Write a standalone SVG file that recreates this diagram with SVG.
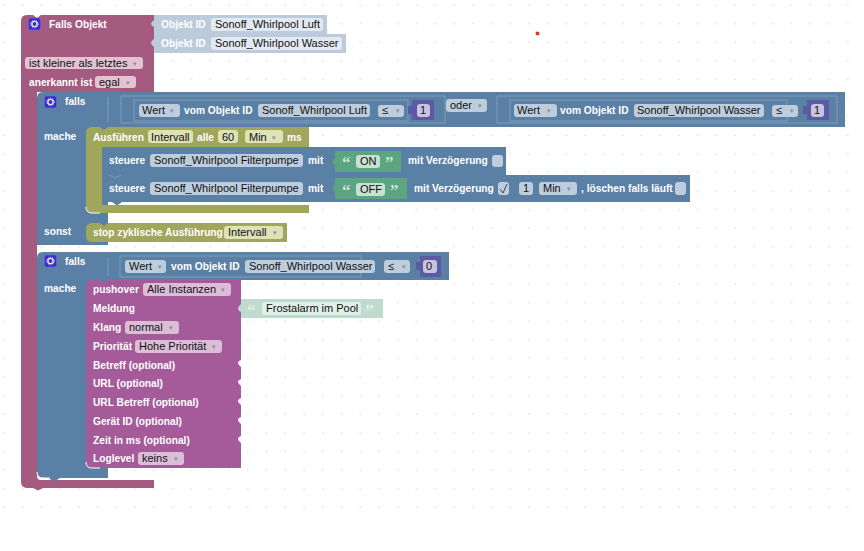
<svg xmlns="http://www.w3.org/2000/svg" width="864" height="551" viewBox="0 0 864 551">
<style>
text{font-family:"Liberation Sans",Arial,sans-serif;font-size:10.2px;font-weight:bold;fill:#fff}
.f{font-weight:normal;fill:#111;font-size:11px}
.ed{rx:3px;ry:3px}
.rosef{fill:#e3c3d2}.bluef{fill:#bdcddd}.olivef{fill:#dde2b8}.purpf{fill:#dcbdd8}.lightf{fill:#e3e9f0}.greenf{fill:#c6e0d2}.numf{fill:#c9c3e0}
.rose{fill:#a55b80}.blue{fill:#5b80a5}.olive{fill:#a0a65b}.purp{fill:#a55b99}.light{fill:#bccbdc}.green{fill:#5ba580}.pale{fill:#bddccd}.num{fill:#5b5ba5}
.in{fill:none;stroke:#7f9dbb;stroke-width:1}
.hl{fill:none;stroke:#fff;stroke-width:1}
.q{font-family:"Liberation Serif",serif;font-size:17px;font-weight:bold;fill:#cfe6da}
.ar{fill:#8f8f8f;font-size:7px;font-weight:normal}
</style>
<defs>
<pattern id="dots" width="18.75" height="18.6" patternUnits="userSpaceOnUse" x="-5" y="-4"><circle cx="9" cy="9" r="0.8" fill="#d4d4d4"/></pattern>
<g id="gear"><rect x="-6" y="-6" width="12" height="12" rx="2" fill="#3a2fc4" stroke="#6f66d8" stroke-width="0.6"/><circle r="2.6" fill="none" stroke="#e8e6fa" stroke-width="1.4"/><circle r="3.8" fill="none" stroke="#e8e6fa" stroke-width="0.8" stroke-dasharray="1.2 1.2"/></g>
</defs>
<rect width="864" height="551" fill="#fff"/>
<rect width="864" height="525" fill="url(#dots)"/>
<circle cx="537.500" cy="33.500" r="2" fill="#d63a2a"/>

<g id="falls-objekt">
<path class="rose" d="M27 15H33L37 18L41 15H154V92H37V476Q37 480 41 480H154V488H43L38 490.500L33 488H28Q21 488 21 482V21Q21 15 27 15Z"/>
<use href="#gear" x="34.500" y="24"/>
<text x="49" y="28">Falls Objekt</text>
<rect class="rosef ed" x="25" y="57" width="118" height="12"/>
<text class="f" x="29" y="67">ist kleiner als letztes</text><text class="ar" x="133" y="66">▾</text>
<text x="29" y="86">anerkannt ist</text>
<rect class="rosef ed" x="95" y="76" width="41" height="12"/>
<text class="f" x="99" y="86">egal</text><text class="ar" x="126" y="85">▾</text>
</g>

<g id="objekt-luft">
<path class="light" d="M154 15H327V34H154V27Q148 24 154 20Z"/>
<text x="161" y="28">Objekt ID</text>
<rect class="lightf ed" x="211" y="18" width="112" height="13"/>
<text class="f" x="215" y="28">Sonoff_Whirlpool Luft</text>
</g>
<g id="objekt-wasser">
<path class="light" d="M154 34H346V53H154V47Q148 43 154 39Z"/>
<text x="161" y="47">Objekt ID</text>
<rect class="lightf ed" x="211" y="37" width="131" height="13"/>
<text class="f" x="215" y="47">Sonoff_Whirlpool Wasser</text>
</g>

<g id="falls-1">
<path class="blue" d="M43 92H845V127H108V245H37V98Q37 92 43 92Z"/>
<use href="#gear" x="50.500" y="102"/>
<text x="65" y="105">falls</text>
<text x="44" y="140">mache</text>
<text x="44" y="235">sonst</text>
<path class="in" d="M108 97V122M121 96H445V123H121Z"/>
<rect class="in" x="134" y="100" width="274" height="21"/>
<rect class="bluef ed" x="139" y="104" width="41" height="13"/>
<text class="f" x="142" y="114">Wert</text><text class="ar" x="170" y="113">▾</text>
<text x="184" y="114">vom Objekt ID</text>
<rect class="bluef ed" x="258" y="104" width="112" height="13"/>
<text class="f" x="262" y="114">Sonoff_Whirlpool Luft</text>
<rect class="bluef ed" x="378" y="105" width="26" height="12"/>
<text class="f" x="382" y="114">≤</text><text class="ar" x="396" y="113">▾</text>
<path class="num" d="M412 100H434V120H412V114H408V106H412Z"/>
<rect class="numf ed" x="417" y="104" width="13" height="13"/>
<text class="f" x="420" y="114">1</text>
<rect class="bluef ed" x="446" y="99" width="41" height="13"/>
<text class="f" x="450" y="109">oder</text><text class="ar" x="478" y="108">▾</text>
<path class="in" d="M497 96H837V123H497Z"/>
<rect class="in" x="510" y="100" width="277" height="21"/>
<rect class="bluef ed" x="514" y="104" width="43" height="13"/>
<text class="f" x="517" y="114">Wert</text><text class="ar" x="547" y="113">▾</text>
<text x="560" y="114">vom Objekt ID</text>
<rect class="bluef ed" x="634" y="104" width="130" height="13"/>
<text class="f" x="637" y="114">Sonoff_Whirlpool Wasser</text>
<rect class="bluef ed" x="772" y="105" width="26" height="12"/>
<text class="f" x="776" y="114">≤</text><text class="ar" x="790" y="113">▾</text>
<path class="num" d="M807 100H829V120H807V114H803V106H807Z"/>
<rect class="numf ed" x="811" y="104" width="13" height="13"/>
<text class="f" x="814" y="114">1</text>
</g>

<g id="ausfuehren">
<path class="olive" d="M92 127H100L104 130L108 127H309V147H102V205H309V213H92Q86 213 86 207V133Q86 127 92 127Z"/>
<path class="hl" d="M86 207Q86 213 92 213H100"/>
<text x="93" y="141">Ausführen</text>
<rect class="olivef ed" x="148" y="130" width="45" height="13"/>
<text class="f" x="151" y="141">Intervall</text>
<text x="197" y="141">alle</text>
<rect class="olivef ed" x="218" y="130" width="20" height="13"/>
<text class="f" x="222" y="141">60</text>
<rect class="olivef ed" x="245" y="130" width="38" height="13"/>
<text class="f" x="249" y="141">Min</text><text class="ar" x="272" y="140">▾</text>
<text x="287" y="141">ms</text>
</g>

<g id="steuere-on">
<path class="blue" d="M108 147H506V175H102V153Q102 147 108 147Z"/>
<text x="109" y="164">steuere</text>
<rect class="bluef ed" x="150" y="154" width="153" height="13"/>
<text class="f" x="154" y="164">Sonoff_Whirlpool  Filterpumpe</text>
<text x="308" y="164">mit</text>
<path class="green" d="M335 151H401V172H335V165Q330 162 335 158Z"/>
<text class="q" x="342" y="168">“</text>
<rect class="greenf ed" x="356" y="155" width="24" height="13"/>
<text class="f" x="360" y="165">ON</text>
<text class="q" x="385" y="168">”</text>
<text x="408" y="164">mit Verzögerung</text>
<rect class="bluef ed" x="492" y="155" width="11" height="12"/>
</g>

<g id="steuere-off">
<path class="blue" d="M102 175H690V202H122L117 205.500L112 202H108Q102 202 102 196Z"/>
<path d="M109 175L115 178L121 175" fill="none" stroke="#7f9dbb"/>
<text x="109" y="192">steuere</text>
<rect class="bluef ed" x="150" y="182" width="153" height="13"/>
<text class="f" x="154" y="192">Sonoff_Whirlpool  Filterpumpe</text>
<text x="308" y="192">mit</text>
<path class="green" d="M335 178H407V199H335V192Q330 189 335 185Z"/>
<text class="q" x="342" y="196">“</text>
<rect class="greenf ed" x="356" y="183" width="29" height="13"/>
<text class="f" x="360" y="193">OFF</text>
<text class="q" x="390" y="196">”</text>
<text x="414" y="192">mit Verzögerung</text>
<rect class="bluef ed" x="498" y="182" width="11" height="13"/>
<path d="M500 189L503 193L507 184" fill="none" stroke="#444" stroke-width="1"/>
<rect class="bluef ed" x="519" y="182" width="14" height="13"/>
<text class="f" x="523" y="192">1</text>
<rect class="bluef ed" x="539" y="182" width="38" height="13"/>
<text class="f" x="543" y="192">Min</text><text class="ar" x="567" y="191">▾</text>
<text x="581" y="192">, löschen falls läuft</text>
<rect class="bluef ed" x="675" y="182" width="11" height="13"/>
</g>

<g id="stop">
<path class="olive" d="M92 223H100L104 226L108 223H287V242H92Q86 242 86 236V229Q86 223 92 223Z"/>
<text x="93" y="236">stop zyklische Ausführung</text>
<rect class="olivef ed" x="224" y="226" width="59" height="13"/>
<text class="f" x="228" y="236">Intervall</text><text class="ar" x="273" y="235">▾</text>
</g>

<g id="falls-2">
<path class="blue" d="M43 252H449V280H108V478H60L54 481.500L48 478H43Q37 478 37 472V258Q37 252 43 252Z"/>
<path class="hl" d="M37 472Q37 478 43 478H50"/>
<use href="#gear" x="50.500" y="261"/>
<text x="65" y="265">falls</text>
<text x="44" y="292">mache</text>
<path class="in" d="M108 258V276"/>
<rect class="in" x="120" y="256" width="241" height="21"/>
<rect class="bluef ed" x="125" y="260" width="41" height="13"/>
<text class="f" x="129" y="270">Wert</text><text class="ar" x="158" y="269">▾</text>
<text x="171" y="270">vom Objekt ID</text>
<rect class="bluef ed" x="245" y="260" width="130" height="13"/>
<text class="f" x="249" y="270">Sonoff_Whirlpool Wasser</text>
<rect class="bluef ed" x="384" y="260" width="26" height="13"/>
<text class="f" x="388" y="270">≤</text><text class="ar" x="402" y="269">▾</text>
<path class="num" d="M420 256H441V277H420V270H416V262H420Z"/>
<rect class="numf ed" x="423" y="260" width="14" height="13"/>
<text class="f" x="426" y="270">0</text>
</g>

<g id="pushover">
<path class="purp" d="M92 280H100L104 283L108 280H241V360Q235 362 241 367V379Q235 381 241 386V398Q235 400 241 405V417Q235 419 241 424V436Q235 438 241 443V468H92Q86 468 86 462V286Q86 280 92 280Z"/>
<path class="hl" d="M86 462Q86 468 92 468H100"/>
<text x="93" y="293">pushover</text>
<rect class="purpf ed" x="143" y="283" width="88" height="13"/>
<text class="f" x="147" y="293">Alle Instanzen</text><text class="ar" x="221" y="292">▾</text>
<text x="93" y="312">Meldung</text>
<text x="93" y="331">Klang</text>
<rect class="purpf ed" x="125" y="321" width="54" height="13"/>
<text class="f" x="129" y="331">normal</text><text class="ar" x="169" y="330">▾</text>
<text x="93" y="350">Priorität</text>
<rect class="purpf ed" x="135" y="340" width="87" height="13"/>
<text class="f" x="139" y="350">Hohe Priorität</text><text class="ar" x="212" y="349">▾</text>
<text x="93" y="369">Betreff (optional)</text>
<text x="93" y="387">URL (optional)</text>
<text x="93" y="406">URL Betreff (optional)</text>
<text x="93" y="425">Gerät ID (optional)</text>
<text x="93" y="444">Zeit in ms (optional)</text>
<text x="93" y="462">Loglevel</text>
<rect class="purpf ed" x="138" y="452" width="46" height="13"/>
<text class="f" x="142" y="462">keins</text><text class="ar" x="174" y="461">▾</text>
</g>

<g id="frostalarm">
<path class="pale" d="M241 299H383V318H241V312Q235 309 241 304Z"/>
<text class="q" x="247" y="316" style="fill:#e4f1ea">“</text>
<rect x="262" y="302" width="99" height="13" rx="3" fill="#e0efe7"/>
<text class="f" x="266" y="312">Frostalarm im Pool</text>
<text class="q" x="365" y="316" style="fill:#e4f1ea">”</text>
</g>
</svg>
